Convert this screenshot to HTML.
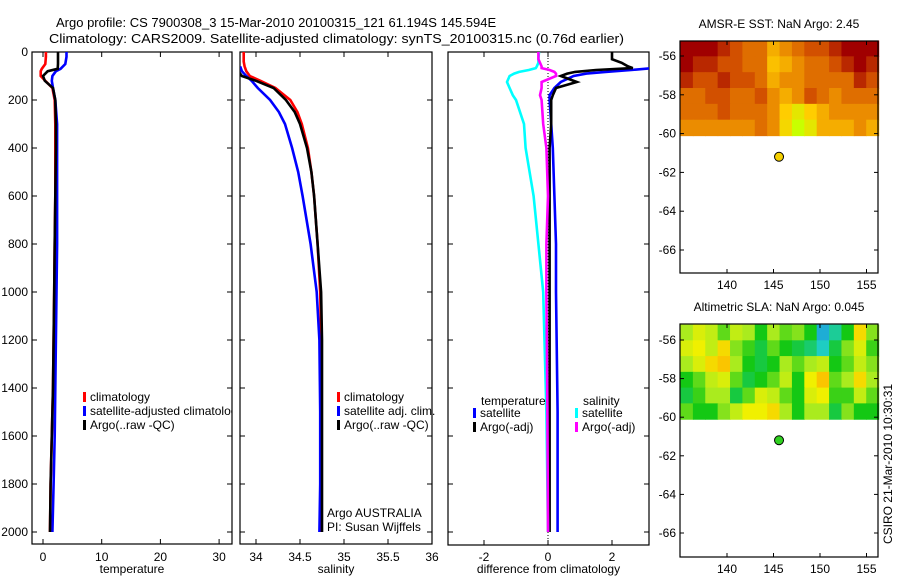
<!DOCTYPE html>
<html><head><meta charset="utf-8">
<style>
html,body{margin:0;padding:0;background:#fff;}
svg{display:block;font-family:"Liberation Sans",sans-serif;}
text{font-size:12px;fill:#000;}
</style></head>
<body>
<svg id="fig" width="900" height="580" viewBox="0 0 900 580" xmlns="http://www.w3.org/2000/svg">
<defs>
<clipPath id="c1"><rect x="32" y="52" width="200" height="492"/></clipPath>
<clipPath id="c2"><rect x="240" y="52" width="192" height="492"/></clipPath>
<clipPath id="c3"><rect x="448" y="52" width="201" height="493"/></clipPath>
</defs>
<text x="56" y="27" style="font-size:13px">Argo profile: CS 7900308_3 15-Mar-2010 20100315_121 61.194S 145.594E</text>
<text x="49" y="43" style="font-size:13px" textLength="575" lengthAdjust="spacingAndGlyphs">Climatology: CARS2009. Satellite-adjusted climatology: synTS_20100315.nc (0.76d earlier)</text>
<g id="g"></g>
</svg>
<script>
// ---- profile data ----
const depthT = [0,20,50,70,80,100,120,150,200,300,400,600,800,1000,1200,1400,1600,1800,2000];
const tempClim = [0.5,0.5,0.4,-0.2,-0.4,-0.4,0.4,1.6,2.0,2.1,2.1,2.1,2.0,1.9,1.8,1.7,1.5,1.3,1.2];
const tempSat  = [4.0,4.0,3.8,3.0,2.2,1.6,1.5,1.7,2.1,2.4,2.4,2.4,2.4,2.3,2.2,2.1,2.0,1.8,1.6];
const tempArgo = [2.55,2.55,2.55,2.5,0.8,0.0,0.3,1.7,2.1,2.2,2.2,2.1,2.0,1.9,1.8,1.7,1.5,1.3,1.2];
const depthS = [0,40,60,80,100,120,150,200,250,300,400,500,600,800,1000,1200,1500,1800,2000];
const salClim = [33.86,33.86,33.87,33.89,33.93,34.05,34.22,34.39,34.47,34.52,34.59,34.63,34.66,34.70,34.73,34.74,34.74,34.74,34.74];
const salSat  = [null,null,33.82,33.84,33.89,33.95,34.02,34.16,34.26,34.33,34.41,34.48,34.53,34.62,34.69,34.72,34.73,34.73,34.72];
const salArgo = [null,null,null,33.80,33.84,34.00,34.20,34.34,34.44,34.50,34.58,34.63,34.66,34.70,34.74,34.75,34.75,34.75,34.75];
const depthD = [0,30,45,60,67,75,83,90,100,125,150,180,200,300,400,600,800,1000,1500,2000];
const dTempSat  = [null,null,null,null,3.3,2.6,1.8,1.2,0.8,0.4,0.2,0.05,0.05,0.1,0.15,0.2,0.25,0.25,0.3,0.3];
const dTempArgo = [2.0,2.0,2.3,2.5,2.65,1.5,0.85,0.6,0.4,0.9,0.25,0.15,0.1,0.1,0.05,0.05,0.05,0.05,0.05,0.05];
const dSalSat   = [-0.28,-0.3,-0.3,-0.35,-0.38,-0.6,-0.9,-1.06,-1.2,-1.28,-1.2,-1.1,-1.0,-0.75,-0.7,-0.45,-0.3,-0.15,-0.05,0.0];
const dSalArgo  = [-0.3,-0.3,-0.25,-0.2,-0.2,0.05,0.2,0.25,0.25,-0.2,-0.2,-0.25,-0.2,-0.15,-0.05,0.0,-0.05,-0.05,-0.02,0.0];
// ---- map data ----
const lonEdges = [135,156.3];
const latEdges = [-55.2,-60.1];
const sstGrid = [
[1,1,1,1.5,2,2.5,2.5,3.5,3,2.5,2,2,1.5,1,1,1],
[1,1.5,1.5,2,2,2.5,2.5,3.8,3.5,3,2.5,2.5,2,1.5,1,1.5],
[1.5,2,2,1.5,2,2,2.5,3.5,3,3,2.5,2.5,2.5,2.5,1.5,2],
[2.5,2.5,2,2,2.5,2.5,2,3,3.5,3,2,2.5,3,2.5,2.5,2.5],
[2.5,2.5,2.5,2,2.5,2.5,2.5,3,4,4.5,4,3.5,3,3,3,3],
[3,3,3,3,3,3,2.5,3,4.2,5,4.5,3.5,3.5,3.5,3,3.5]];
const slaGrid = [
[0.2,0.4,0.3,0,0.3,0.2,-0.2,0.2,0,0.1,-0.2,-0.8,-0.5,-0.2,0.6,0.1],
[0.4,0.5,0.3,0.6,0.1,-0.1,-0.3,0,-0.2,-0.3,-0.4,-0.6,-0.3,0.1,0.4,-0.1],
[0.2,0.4,0.6,0.7,0.2,-0.2,-0.3,-0.2,0.2,0,0.2,0.3,-0.2,0,0.3,0.1],
[-0.2,0,0.3,0.4,0,-0.3,-0.2,0,0.3,-0.2,0.5,0.7,0,0.2,0.6,0.2],
[-0.3,-0.1,0.2,0.2,-0.3,0,0.4,0.3,0,-0.2,0.4,0.5,-0.1,-0.1,0.3,0],
[0,-0.2,-0.2,0.1,0.3,0.5,0.5,0.6,0.2,-0.2,0.2,0.2,-0.3,0.1,-0.2,-0.2]];
const argoLon = 145.594, argoLat = -61.194;
const depthTicks = [0,200,400,600,800,1000,1200,1400,1600,1800,2000];
const tTicks = [0,10,20,30], sTicks = [34,34.5,35,35.5,36], dTicks = [-2,0,2];
const latTicks = [-56,-58,-60,-62,-64,-66], lonTicks = [140,145,150,155];

const NS='http://www.w3.org/2000/svg', G=document.getElementById('g');
function el(t,a,p){const e=document.createElementNS(NS,t);for(const k in a)e.setAttribute(k,a[k]);(p||G).appendChild(e);return e;}
function txt(s,x,y,anchor,p){const e=el('text',{x:x,y:y,'text-anchor':anchor||'start'},p);e.textContent=s;return e;}
const yD = d => 52 + d*0.24;
const xT = v => 43 + 5.87*v, xS = v => 256 + 88*(v-34), xDf = v => 548 + 32*v;

function panel(name,x0,x1,y0,y1,xf,xt,xlab,yt,yf,ylabs,xlabY){
  const r=el('rect',{x:x0,y:y0,width:x1-x0,height:y1-y0,fill:'none',stroke:'#000','stroke-width':1.2});
  
  
  xt.forEach(v=>{const x=xf(v);
    el('line',{x1:x,x2:x,y1:y0,y2:y0+5,stroke:'#000'});el('line',{x1:x,x2:x,y1:y1,y2:y1-5,stroke:'#000'});
    const t=txt(String(v),x,xlabY,'middle');
    
    });
  yt.forEach(v=>{const y=yf(v);
    el('line',{x1:x0,x2:x0+5,y1:y,y2:y,stroke:'#000'});el('line',{x1:x1,x2:x1-5,y1:y,y2:y,stroke:'#000'});
    if(ylabs){const t=txt(String(v),x0-4,y+4,'end');
      
      }});
  if(xlab){const t=txt(xlab,(x0+x1)/2,573,'middle');
    
    }
}
function line(name,ds,vs,xf,col,clip,w){
  const pts=[];ds.forEach((d,i)=>{if(vs[i]!==null)pts.push(xf(vs[i]).toFixed(1)+','+yD(d).toFixed(1));});
  const p=el('polyline',{points:pts.join(' '),fill:'none',stroke:col,'stroke-width':w||2.6,'clip-path':'url(#'+clip+')'});
  
  
}
function legend(name,x,y,col,label){
  const m=el('rect',{x:x,y:y-9,width:3,height:10,fill:col});
  
  
  const t=txt(label,x+7,y);
  
  
}

// Panel 1 temperature
panel('temperature-panel',32,232,52,544,xT,tTicks,'temperature',depthTicks,yD,true,561);
line('temp-climatology-line',depthT,tempClim,xT,'#f00','c1');
line('temp-satellite-line',depthT,tempSat,xT,'#00f','c1');
line('temp-argo-line',depthT,tempArgo,xT,'#000','c1');
const lg1=el('g',{'clip-path':'url(#c1)'});
[['#f00','climatology'],['#00f','satellite-adjusted climatology'],['#000','Argo(..raw -QC)']].forEach((a,i)=>{
  const m=el('rect',{x:83,y:392+i*14,width:3,height:10,fill:a[0]},lg1);
  
  
  const t=txt(a[1],90,401+i*14,'start',lg1);
  
  
});

// Panel 2 salinity
panel('salinity-panel',240,432,52,544,xS,sTicks,'salinity',depthTicks,yD,false,561);
line('sal-climatology-line',depthS,salClim,xS,'#f00','c2');
line('sal-satellite-line',depthS,salSat,xS,'#00f','c2');
line('sal-argo-line',depthS,salArgo,xS,'#000','c2');
legend('sal-legend-climatology',337,401,'#f00','climatology');
legend('sal-legend-satellite',337,415,'#00f','satellite adj. clim.');
legend('sal-legend-argo',337,429,'#000','Argo(..raw -QC)');
let t=txt('Argo AUSTRALIA',327,517);
t=txt('PI: Susan Wijffels',327,531);

// Panel 3 difference
panel('difference-panel',448,649,52,545,xDf,dTicks,'difference from climatology',depthTicks,yD,false,561);
const zl=el('line',{x1:xDf(0),x2:xDf(0),y1:52,y2:545,stroke:'#000','stroke-dasharray':'1,2'});

line('diff-temp-satellite-line',depthD,dTempSat,xDf,'#00f','c3');
line('diff-temp-argo-line',depthD,dTempArgo,xDf,'#000','c3');
line('diff-sal-satellite-line',depthD,dSalSat,xDf,'#0ff','c3');
line('diff-sal-argo-line',depthD,dSalArgo,xDf,'#f0f','c3');
t=txt('temperature',481,405);
t=txt('salinity',583,405);
legend('diff-legend-temp-satellite',473,417,'#00f','satellite');
legend('diff-legend-temp-argo',473,431,'#000','Argo(-adj)');
legend('diff-legend-sal-satellite',575,417,'#0ff','satellite');
legend('diff-legend-sal-argo',575,431,'#f0f','Argo(-adj)');

// maps
function interp(stops,v){
  if(v<=stops[0][0])return 'rgb('+stops[0][1].join(',')+')';
  for(let i=1;i<stops.length;i++){if(v<=stops[i][0]){const a=stops[i-1],b=stops[i],f=(v-a[0])/(b[0]-a[0]);
    return 'rgb('+[0,1,2].map(k=>Math.round(a[1][k]+(b[1][k]-a[1][k])*f)).join(',')+')';}}
  const l=stops[stops.length-1][1];return 'rgb('+l.join(',')+')';
}
const sstStops=[[1,[160,0,0]],[2,[210,80,0]],[3,[235,140,0]],[4,[255,205,0]],[5,[200,255,0]]];
const slaStops=[[-1,[30,140,230]],[-0.6,[30,205,195]],[-0.2,[20,200,20]],[0.2,[170,235,30]],[0.5,[240,240,0]],[0.8,[255,175,0]]];
function mapPanel(name,top,bottom,latAt56,latAt66,title,grid,stops,dotCol){
  const xL=v=>727+9.3*(v-140);
  const yL=v=>latAt56+(latAt66-latAt56)*(v-(-56))/(-10);
  const nr=grid.length,nc=grid[0].length;
  const x0=xL(lonEdges[0]),x1=xL(lonEdges[1]),ya=yL(latEdges[0]),yb=yL(latEdges[1]);
  const cw=(x1-x0)/nc,ch=(yb-ya)/nr;
  grid.forEach((row,r)=>row.forEach((v,c)=>{
    const cell=el('rect',{x:(x0+c*cw).toFixed(2),y:(ya+r*ch).toFixed(2),width:(cw+0.6).toFixed(2),height:(ch+0.6).toFixed(2),fill:interp(stops,v)});
    
    
  }));
  const fr=el('rect',{x:680,y:top,width:198,height:bottom-top,fill:'none',stroke:'#000','stroke-width':1.2});
  
  latTicks.forEach(v=>{const y=yL(v);el('line',{x1:680,x2:684,y1:y,y2:y,stroke:'#000'});el('line',{x1:878,x2:874,y1:y,y2:y,stroke:'#000'});
    const tt=txt(String(v),676,y+4,'end');});
  lonTicks.forEach(v=>{const x=xL(v);el('line',{x1:x,x2:x,y1:top,y2:top+4,stroke:'#000'});el('line',{x1:x,x2:x,y1:bottom,y2:bottom-4,stroke:'#000'});
    const tt=txt(String(v),x,bottom+16,'middle');});
  const tt=txt(title,779,top-13,'middle');
  const dot=el('circle',{cx:xL(argoLon),cy:yL(argoLat),r:4.5,fill:dotCol,stroke:'#000','stroke-width':1});
  
}
mapPanel('sst-map',41,273,56,250,'AMSR-E SST: NaN Argo: 2.45',sstGrid,sstStops,'#f5d000');
mapPanel('sla-map',324,557,340,533,'Altimetric SLA: NaN Argo: 0.045',slaGrid,slaStops,'#30d020');
t=txt('CSIRO 21-Mar-2010 10:30:31',0,0,'middle');
t.setAttribute('transform','translate(892,464) rotate(-90)');

</script>
</body></html>
